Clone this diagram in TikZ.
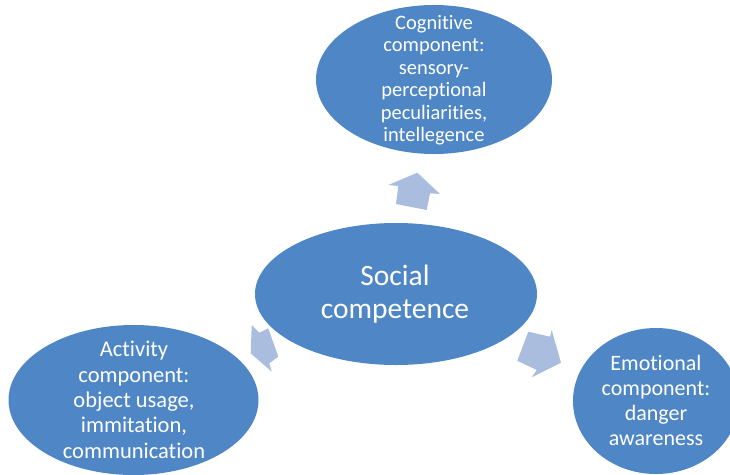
\documentclass[tikz,border=0pt]{standalone}
\usepackage{fontspec}
\setmainfont{Carlito}[RawFeature={-liga;-dlig;-clig}]
\usetikzlibrary{shapes.geometric}
\definecolor{ellfill}{HTML}{4F86C6}
\definecolor{arrfill}{HTML}{ABBDDE}
\tikzset{
  ell/.style={ellipse, fill=ellfill, draw=none, inner sep=0pt},
  lbl/.style={text=white, align=center, anchor=base, inner sep=0pt},
  blockarrow/.style={fill=arrfill, draw=none}
}
\begin{document}
\begin{tikzpicture}[x=1pt,y=-1pt]
\useasboundingbox (0,0) rectangle (730,474);
\begin{scope}
\clip (0,0) rectangle (730,474);
% ellipses
\node[ell, minimum width=236pt, minimum height=149pt] (cog) at (434,79.5) {};
\node[ell, minimum width=282pt, minimum height=142pt] (soc) at (396,294) {};
\node[ell, minimum width=250pt, minimum height=150pt] (act) at (133.5,400) {};
\node[ell, minimum width=166pt, minimum height=146pt] (emo) at (656,401) {};
% block arrows
\draw[blockarrow] (417.3,172.7) -- (440,194) -- (430,193.3) -- (426.7,210) -- (396,204) -- (398.3,186) -- (388.3,185) -- cycle;
\draw[blockarrow] (528.3,331.7) -- (550,336.7) -- (551.7,330) -- (561,362.7) -- (531.7,377.3) -- (536.7,370) -- (517.3,360.7) -- cycle;
\draw[blockarrow] (251.7,325) -- (259.3,332.7) -- (268.3,328.3) -- (278.3,356.7) -- (269.3,363.3) -- (271.7,371.7) -- (250.7,353.3) -- cycle;
\end{scope}
% texts (anchor = baseline of last line)
\node[lbl, font=\fontsize{20.5}{22.5}\selectfont] (cogt) at (434,141.7) {Cognitive\\component:\\sensory-\\perceptional\\peculiarities,\\intellegence};
\node[lbl, font=\fontsize{29.5}{33.3}\selectfont] (soct) at (395,318.3) {Social\\competence};
\node[lbl, font=\fontsize{22.5}{25.3}\selectfont] (actt) at (134,458) {Activity\\component:\\object usage,\\immitation,\\communication};
\node[lbl, font=\fontsize{22}{25}\selectfont] (emot) at (656,445) {Emotional\\component:\\danger\\awareness};
\end{tikzpicture}
\end{document}
